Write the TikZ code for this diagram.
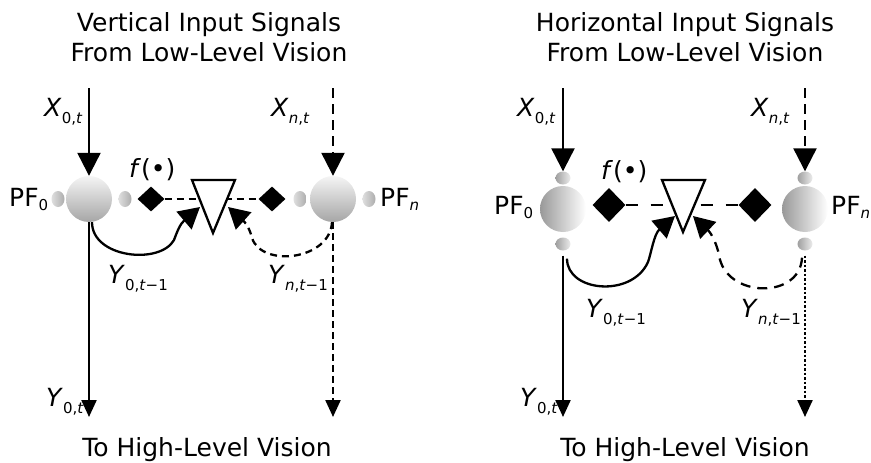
\documentclass[tikz,border=0pt]{standalone}
\usepackage{fontspec}
\setmainfont{DejaVu Sans}
\usetikzlibrary{arrows.meta,shapes.geometric}

\newcommand{\varlbl}[3][7pt]{\textit{#2}\raisebox{-#1}{\fontsize{15}{15}\selectfont #3}}
\newcommand{\pflbl}[1]{PF\raisebox{-4pt}{\fontsize{15}{15}\selectfont #1}}

\tikzset{
  sig/.style={line width=2.3pt},
  inarrow/.style={sig, -{Triangle[width=23pt,length=23pt]}},
  outarrow/.style={sig, -{Triangle[width=15pt,length=17pt]}},
  fbarrow/.style={sig, -{Triangle[width=23pt,length=21pt]}},
  pfunit/.style={circle, minimum size=46pt, inner sep=0pt, top color=gray!8, bottom color=gray!70},
  pfunitH/.style={circle, minimum size=46pt, inner sep=0pt, left color=gray!80, right color=white},
  port/.style={ellipse, minimum width=13pt, minimum height=16pt, inner sep=0pt, left color=gray!25, right color=gray!65},
  portH/.style={ellipse, minimum width=15pt, minimum height=13pt, inner sep=0pt, left color=gray!75, right color=gray!15},
  fnode/.style={diamond, fill=black, inner sep=0pt, minimum width=27pt, minimum height=25pt},
  fnodeH/.style={fnode, minimum width=33pt, minimum height=34pt},
  lbl/.style={inner sep=0pt, anchor=base west},
  sumbox/.style={sig, fill=white, line join=miter},
}

\begin{document}
\begin{tikzpicture}[x=1pt, y=-1pt, font=\fontsize{25}{30}\selectfont]
  \useasboundingbox (0,0) rectangle (871,463);

  % ---- Vertical input panel ----
  \node[inner sep=0pt, align=center] (vtitle) at (209,37) {Vertical Input Signals\\From Low-Level Vision};
  \node[inner sep=0pt, anchor=base] (vbottom) at (207,456) {To High-Level Vision};

  \node[pfunit] (v0) at (89,199) {};
  \node[pfunit] (vn) at (333,199) {};
  \node[port] (v0l) at (58,199) {};
  \node[port] (v0r) at (125,199) {};
  \node[port] (vnl) at (300,199) {};
  \node[port] (vnr) at (369,199) {};
  \node[fnode] (fv0) at (151,199) {};
  \node[fnode] (fvn) at (272,199) {};

  \node[lbl] (pfv0) at (9,206) {\pflbl{0}};
  \node[lbl] (pfvn) at (380,206) {\pflbl{\textit{n}}};
  \node[lbl] (fvlbl) at (129,177) {\textit{f}(•)};

  % coupling line and summing triangle
  \draw[sig, dash pattern=on 7pt off 5pt] (fv0) -- (fvn);
  \draw[sumbox] (192,180) coordinate (vsumA) -- (235,180) coordinate (vsumB) -- (213,233) coordinate (vsumC) -- cycle;
  \coordinate (vsumL) at (200,207);
  \coordinate (vsumR) at (228,207);

  % inputs
  \coordinate (vx0) at (89,88);
  \coordinate (vxn) at (333,88);
  \draw[inarrow] (vx0) -- (v0);
  \draw[inarrow, dash pattern=on 10pt off 6pt] (vxn) -- (vn);
  \node[lbl] (vx0lbl) at (44,116) {\varlbl{X}{0,\textit{t}}};
  \node[lbl] (vxnlbl) at (271,116) {\varlbl{X}{\textit{n},\textit{t}}};

  % outputs
  \coordinate (vy0) at (89,417);
  \coordinate (vyn) at (333,417);
  \draw[outarrow] (v0) -- (vy0);
  \draw[outarrow, dash pattern=on 7pt off 4pt] (vn) -- (vyn);
  \node[lbl] (vy0lbl) at (46,406) {\varlbl{Y}{0,\textit{t}}};

  % feedback
  \draw[fbarrow] ([xshift=3pt]v0.south) .. controls (92,258) and (160,265) .. (174,240)
    .. controls (177,232) and (180,224) .. (vsumL);
  \draw[fbarrow, dash pattern=on 7pt off 5pt] ([xshift=-1pt]vn.south) .. controls (330,260) and (262,268) .. (252,238)
    .. controls (250,230) and (247,224) .. (vsumR);
  \node[lbl] (vfb0lbl) at (108,283) {\varlbl{Y}{0,\textit{t}−1}};
  \node[lbl] (vfbnlbl) at (268,283) {\varlbl{Y}{\textit{n},\textit{t}−1}};

  % ---- Horizontal input panel ----
  \node[inner sep=0pt, align=center] (htitle) at (685,37) {Horizontal Input Signals\\From Low-Level Vision};
  \node[inner sep=0pt, anchor=base] (hbottom) at (685,456) {To High-Level Vision};

  \node[pfunitH] (h0) at (563,209) {};
  \node[pfunitH] (hn) at (805,209) {};
  \node[portH] (h0t) at (563,178) {};
  \node[portH] (h0b) at (563,244) {};
  \node[portH] (hnt) at (805,178) {};
  \node[portH] (hnb) at (805,244) {};
  \node[fnodeH] (fh0) at (609,205) {};
  \node[fnodeH] (fhn) at (755,205) {};

  \node[lbl] (pfh0) at (494,214) {\pflbl{0}};
  \node[lbl] (pfhn) at (831,214) {\pflbl{\textit{n}}};
  \node[lbl] (fhlbl) at (601,179) {\textit{f}(•)};

  % coupling line and summing triangle
  \draw[sig, dash pattern=on 12pt off 13pt] (fh0) -- (fhn);
  \draw[sumbox] (662,180) coordinate (hsumA) -- (705,180) coordinate (hsumB) -- (683,232) coordinate (hsumC) -- cycle;
  \coordinate (hsumL) at (675,216);
  \coordinate (hsumR) at (693,216);

  % inputs
  \coordinate (hx0) at (563,88);
  \coordinate (hxn) at (805,88);
  \draw[inarrow] (hx0) -- (h0t);
  \draw[inarrow, dash pattern=on 10pt off 6pt] (hxn) -- (hnt);
  \node[lbl] (hx0lbl) at (517,116) {\varlbl{X}{0,\textit{t}}};
  \node[lbl] (hxnlbl) at (751,116) {\varlbl{X}{\textit{n},\textit{t}}};

  % outputs
  \coordinate (hy0) at (563,417);
  \coordinate (hyn) at (805,417);
  \draw[outarrow] ([yshift=-5pt]h0b.south) -- (hy0);
  \draw[outarrow, dash pattern=on 2.5pt off 2pt] ([yshift=-5pt]hnb.south) -- (hyn);
  \node[lbl] (hy0lbl) at (520,406) {\varlbl{Y}{0,\textit{t}}};

  % feedback
  \draw[fbarrow] ([xshift=4pt,yshift=-8pt]h0b.south) .. controls (567,292) and (632,298) .. (648,262)
    .. controls (651,254) and (654,234) .. (hsumL);
  \draw[fbarrow, dash pattern=on 10pt off 7pt] ([xshift=-3pt,yshift=-7pt]hnb.south) .. controls (800,300) and (725,298) .. (719,255)
    .. controls (717,245) and (712,234) .. (hsumR);
  \node[lbl] (hfb0lbl) at (586,317) {\varlbl{Y}{0,\textit{t}−1}};
  \node[lbl] (hfbnlbl) at (741,317) {\varlbl{Y}{\textit{n},\textit{t}−1}};
\end{tikzpicture}
\end{document}
